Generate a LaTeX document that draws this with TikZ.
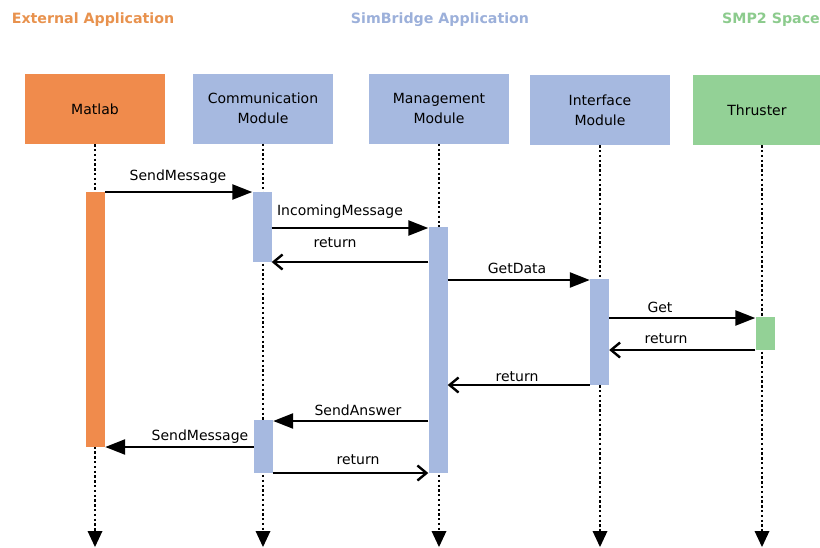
\documentclass[tikz,border=0pt]{standalone}
\usepackage{fontspec}
\setmainfont{DejaVu Sans}
\usetikzlibrary{arrows.meta}
\definecolor{orng}{HTML}{F08B4C}
\definecolor{blu}{HTML}{A6B9E0}
\definecolor{grn}{HTML}{93D196}
\definecolor{orngtxt}{HTML}{E8924E}
\definecolor{blutxt}{HTML}{9CB0DA}
\definecolor{grntxt}{HTML}{8CCB8D}
\tikzset{
  obj/.style={draw=none, minimum width=140pt, minimum height=70pt, align=center, font=\fontsize{14}{20}\selectfont, inner sep=0pt},
  hdr/.style={font=\bfseries\fontsize{14.2}{16}\selectfont},
  bar/.style={draw=none, minimum width=19pt, inner sep=0pt},
  life/.style={line width=2.5pt, dash pattern=on 2.3pt off 2.5pt, -{Triangle[length=16pt,width=15pt,line width=0pt]}, shorten >=0pt},
  msg/.style={line width=2.4pt, -{Triangle[length=20pt,width=15pt]}},
  ret/.style={line width=2.4pt, -{Straight Barb[length=9pt,width=15pt,line width=2.4pt]}},
  lbl/.style={font=\fontsize{14}{16}\selectfont, inner sep=0pt}
}
\begin{document}
\begin{tikzpicture}[x=1pt,y=-1pt]
\useasboundingbox (0,0) rectangle (820,547);
% headers
\node[hdr, text=orngtxt] (h1) at (93,20) {External Application};
\node[hdr, text=blutxt] (h2) at (440,20) {SimBridge Application};
\node[hdr, text=grntxt] (h3) at (771,20) {SMP2 Space};
% objects
\node[obj, fill=orng] (matlab) at (95,109) {Matlab};
\node[obj, fill=blu] (comm) at (263,108.5) {Communication\\Module};
\node[obj, fill=blu] (mgmt) at (439,108.5) {Management\\Module};
\node[obj, fill=blu] (iface) at (600,110) {Interface\\Module};
\node[obj, fill=grn, minimum width=128pt] (thr) at (757,110) {Thruster};
% lifeline ends
\coordinate (e1) at (95,547);
\coordinate (e2) at (263,547);
\coordinate (e3) at (439,547);
\coordinate (e4) at (600,547);
\coordinate (e5) at (762,547);
\draw[life] (matlab.south) -- (e1);
\draw[life] (comm.south) -- (e2);
\draw[life] (mgmt.south) -- (e3);
\draw[life] (iface.south) -- (e4);
\draw[life] (thr.south -| e5) -- (e5);
% activation bars
\node[bar, fill=orng, minimum height=255pt] (mb) at (95.5,319.5) {};
\node[bar, fill=blu, minimum height=70pt] (cb1) at (262,227) {};
\node[bar, fill=blu, minimum height=246pt] (gb) at (438,350) {};
\node[bar, fill=blu, minimum height=106pt] (ib) at (599.5,332) {};
\node[bar, fill=grn, minimum height=33pt] (tb) at (765,333.5) {};
\node[bar, fill=blu, minimum height=53pt] (cb2) at (263.5,446.5) {};
% messages
\draw[msg] (mb.east |- 0,192) -- (cb1.west |- 0,192);
\node[lbl] (l1) at (178,177) {SendMessage};
\draw[msg] (cb1.east |- 0,228) -- (gb.west |- 0,228);
\node[lbl] (l2) at (340,212) {IncomingMessage};
\draw[ret] (gb.west |- 0,262) -- (cb1.east |- 0,262);
\node[lbl] (l3) at (335,243) {return};
\draw[msg] (gb.east |- 0,280) -- (ib.west |- 0,280);
\node[lbl] (l4) at (517,268) {GetData};
\draw[msg] (ib.east |- 0,318) -- (tb.west |- 0,318);
\node[lbl] (l5) at (660,307) {Get};
\draw[ret] (tb.west |- 0,350) -- (ib.east |- 0,350);
\node[lbl] (l6) at (666,339) {return};
\draw[ret] (ib.west |- 0,385) -- (gb.east |- 0,385);
\node[lbl] (l7) at (517,377) {return};
\draw[msg] (gb.west |- 0,421) -- (cb2.east |- 0,421);
\node[lbl] (l8) at (358,410) {SendAnswer};
\draw[msg] (cb2.west |- 0,447) -- (mb.east |- 0,447);
\node[lbl] (l9) at (200,437) {SendMessage};
\draw[ret] (cb2.east |- 0,473) -- (gb.west |- 0,473);
\node[lbl] (l10) at (358,460) {return};
\end{tikzpicture}
\end{document}
